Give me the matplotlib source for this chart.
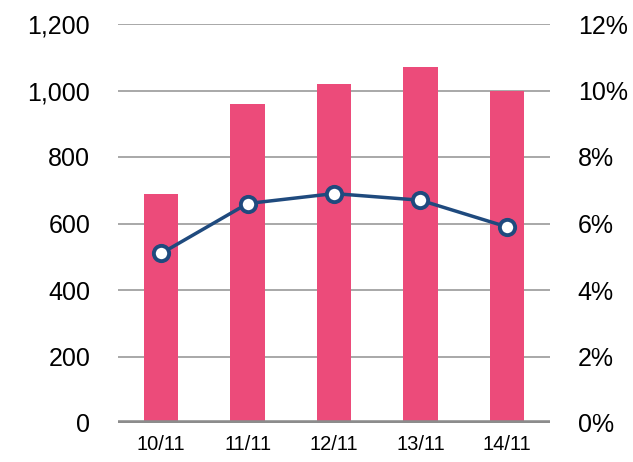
import matplotlib
matplotlib.use("Agg")
import matplotlib.pyplot as plt
from matplotlib.ticker import FuncFormatter

plt.rcParams['font.family'] = ['Liberation Sans', 'DejaVu Sans']

categories = ["10/11", "11/11", "12/11", "13/11", "14/11"]
bar_values = [690, 960, 1020, 1070, 1000]
rate_values = [5.1, 6.6, 6.9, 6.7, 5.9]
left_ticks = [0, 200, 400, 600, 800, 1000, 1200]
right_ticks = [0, 2, 4, 6, 8, 10, 12]

fig = plt.figure(figsize=(6.33, 4.62), dpi=100)
ax = fig.add_axes([118/633, 39/462, 432/633, 399/462])
x = list(range(len(categories)))

for yv in left_ticks[1:]:
    ax.axhline(yv, color="#9a9a9a", lw=1.2, zorder=0)
ax.bar(x, bar_values, width=0.4, color="#EC4B7A", zorder=2)
ax.axhline(0, color="#8c8c8c", lw=4, zorder=3)

ax.set_xlim(-0.5, 4.5)
ax.set_ylim(0, 1200)
ax.set_yticks(left_ticks)
ax.yaxis.set_major_formatter(FuncFormatter(lambda v, p: f"{int(v):,}"))
ax.set_xticks(x)
ax.set_xticklabels(categories)
ax.tick_params(axis='y', length=0, pad=20, labelsize=18)
ax.tick_params(axis='x', length=0, pad=9, labelsize=14.5)
for s in ax.spines.values():
    s.set_visible(False)

ax2 = ax.twinx()
ax2.set_ylim(0, 12)
ax2.set_yticks(right_ticks)
ax2.yaxis.set_major_formatter(FuncFormatter(lambda v, p: f"{int(v)}%"))
ax2.tick_params(axis='y', length=0, pad=20, labelsize=18)
for s in ax2.spines.values():
    s.set_visible(False)
ax2.plot(x, rate_values, color="#1F4A7E", lw=2.5, marker="o", markersize=11,
         markerfacecolor="white", markeredgecolor="#1F4A7E", markeredgewidth=2.8, zorder=5)

fig.savefig("out.png", dpi=100)
